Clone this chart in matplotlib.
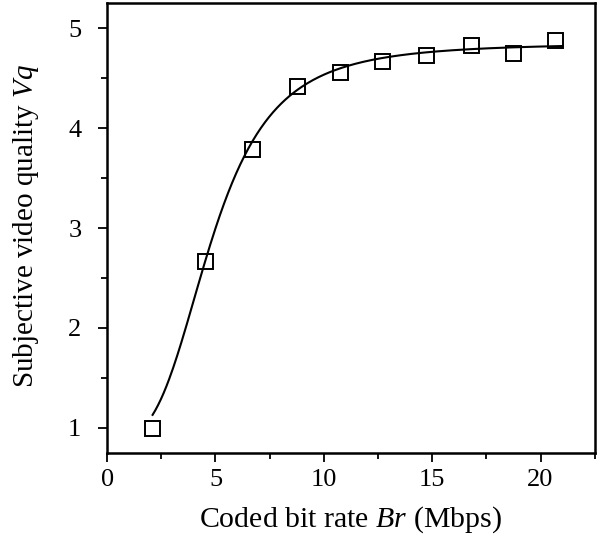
import numpy as np
import matplotlib
matplotlib.use('Agg')
import matplotlib.pyplot as plt

# Data
bit_rate = [2.05, 4.53, 6.67, 8.78, 10.75, 12.70, 14.72, 16.78, 18.72, 20.68]
quality = [1.00, 2.67, 3.79, 4.42, 4.56, 4.67, 4.73, 4.83, 4.75, 4.88]

# Logistic fit parameters: y = A2 + (A1 - A2) / (1 + (x / x0)^p)
A1, A2, x0, p = 0.9, 4.85, 4.82, 3.35
fit_range = (2.1, 21.0)

plt.rcParams['font.family'] = 'Liberation Serif'
plt.rcParams['mathtext.fontset'] = 'custom'
plt.rcParams['mathtext.rm'] = 'Liberation Serif'
plt.rcParams['mathtext.it'] = 'Liberation Serif:italic'

fig = plt.figure(figsize=(6.05, 5.41), dpi=100)
ax = fig.add_axes([0.177, 0.163, 0.806, 0.831])

xf = np.linspace(fit_range[0], fit_range[1], 300)
yf = A2 + (A1 - A2) / (1 + (xf / x0) ** p)
ax.plot(xf, yf, color='black', lw=1.5)

ax.plot(bit_rate, quality, ls='none', marker='s', ms=10.8,
        mfc='none', mec='black', mew=1.4)

ax.set_xlim(0, 22.5)
ax.set_ylim(0.75, 5.25)
ax.set_xticks([0, 5, 10, 15, 20])
ax.set_xticks([2.5, 7.5, 12.5, 17.5, 22.5], minor=True)
ax.set_yticks([1, 2, 3, 4, 5])
ax.set_yticks([1.5, 2.5, 3.5, 4.5], minor=True)

for s in ax.spines.values():
    s.set_linewidth(1.8)
ax.tick_params(which='major', direction='out', length=6.5, width=1.3, labelsize=19)
ax.tick_params(which='minor', direction='out', length=4, width=1.3)
ax.tick_params(axis='y', which='major', pad=12)
ax.tick_params(axis='x', which='major', pad=5)

ax.set_xlabel('Coded bit rate $Br$ (Mbps)', fontsize=21.5)
ax.set_ylabel('Subjective video quality $Vq$', fontsize=21)
ax.xaxis.set_label_coords(0.50, -0.115)
ax.yaxis.set_label_coords(-0.135, 0.505)

fig.savefig('out.png', dpi=100)
